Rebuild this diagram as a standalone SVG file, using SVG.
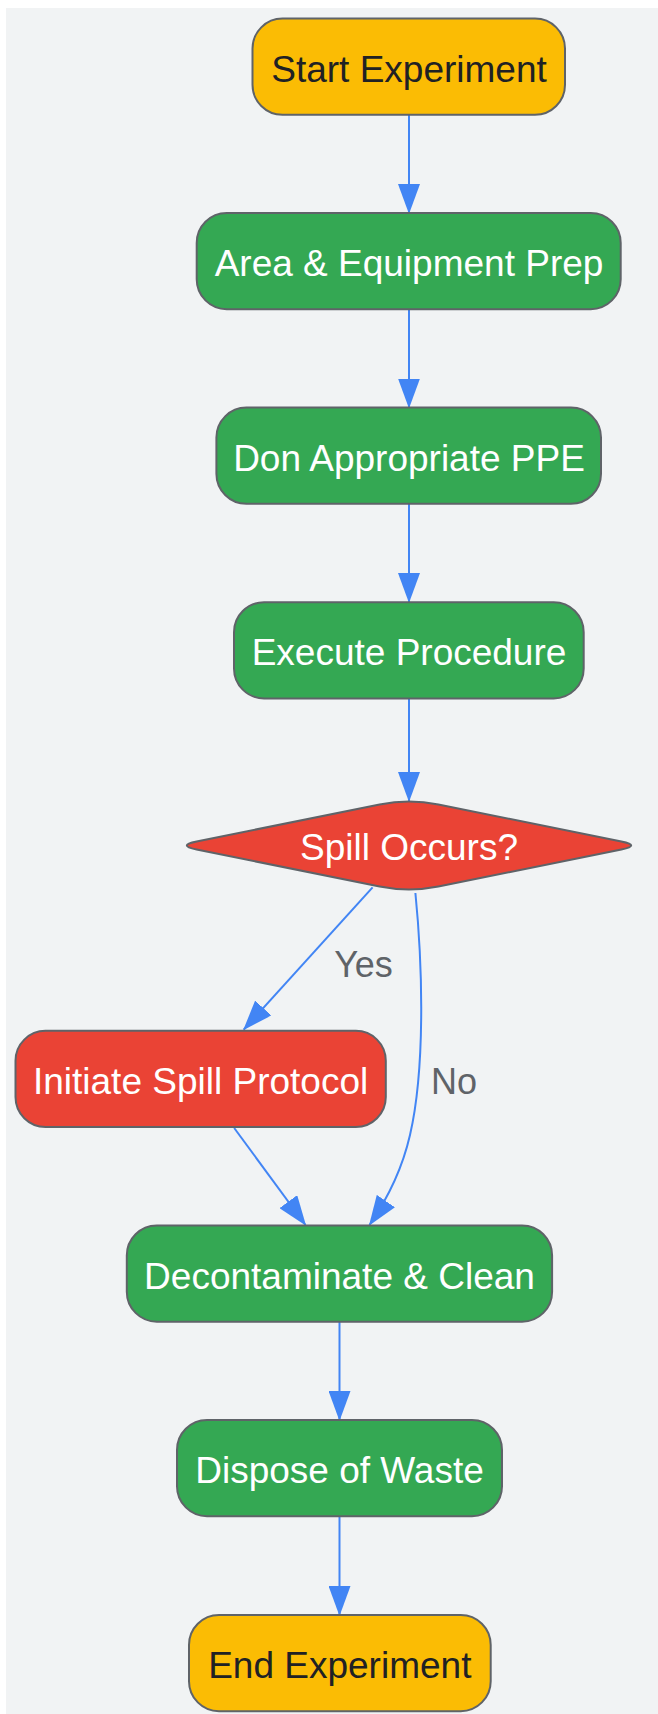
<svg xmlns="http://www.w3.org/2000/svg" width="658" height="1714" viewBox="0 0 658 1714">
<style>
.node{stroke:#5f6368;stroke-width:2}
.green{fill:#34A853}
.red{fill:#EA4335}
.yellow{fill:#FBBC04}
.t{font-family:"Liberation Sans",Arial,sans-serif;font-size:37px;text-anchor:middle}
.w{fill:#ffffff}
.d{fill:#202124}
.edge{fill:none;stroke:#4285F4;stroke-width:2}
.lbl{font-family:"Liberation Sans",Arial,sans-serif;font-size:36px;text-anchor:middle;fill:#5f6368}
</style>
<defs>
<marker id="arr" viewBox="0 0 30 22" markerWidth="30" markerHeight="22" refX="29" refY="11" markerUnits="userSpaceOnUse" orient="auto">
<path d="M0,0 L30,11 L0,22 Z" fill="#4285F4"/>
</marker>
</defs>
<rect x="6" y="8" width="652" height="1706" fill="#f1f3f4"/>
<g id="connectors">
<path class="edge" d="M409,115 L409,213" marker-end="url(#arr)"/>
<path class="edge" d="M409,309 L409,407.5" marker-end="url(#arr)"/>
<path class="edge" d="M409,504 L409,602" marker-end="url(#arr)"/>
<path class="edge" d="M409,698.5 L409,801" marker-end="url(#arr)"/>
<path class="edge" d="M372.6,887.3 L243.8,1029.5" marker-end="url(#arr)"/>
<path class="edge" d="M415.4,893 C423,970 425,1070 410,1135 C402,1170 388,1198 369.5,1225" marker-end="url(#arr)"/>
<path class="edge" d="M234.2,1128 L305.5,1225" marker-end="url(#arr)"/>
<path class="edge" d="M339.5,1322 L339.5,1420" marker-end="url(#arr)"/>
<path class="edge" d="M339.5,1516.5 L339.5,1615" marker-end="url(#arr)"/>
<text class="lbl" x="363.5" y="977">Yes</text>
<text class="lbl" x="454" y="1094">No</text>
</g>
<g id="start">
<rect class="node yellow" x="252.5" y="18.6" width="312.5" height="96.2" rx="30"/>
<text class="t d" x="409" y="81.7">Start Experiment</text>
</g>
<g id="prep">
<rect class="node green" x="196.7" y="213" width="424" height="96.2" rx="30"/>
<text class="t w" x="409" y="276">Area &amp; Equipment Prep</text>
</g>
<g id="ppe">
<rect class="node green" x="216.4" y="407.6" width="384.6" height="96.2" rx="30"/>
<text class="t w" x="409" y="470.7">Don Appropriate PPE</text>
</g>
<g id="execute">
<rect class="node green" x="234" y="602.2" width="349.7" height="96.2" rx="30"/>
<text class="t w" x="409" y="665.3">Execute Procedure</text>
</g>
<g id="spill">
<path class="node red" d="M196.6,841.5 L379.6,804.5 Q409,798.6 438.4,804.5 L621.4,841.5 Q641,845.5 621.4,849.5 L438.4,886.5 Q409,892.4 379.6,886.5 L196.6,849.5 Q177,845.5 196.6,841.5 Z"/>
<text class="t w" x="409" y="860">Spill Occurs?</text>
</g>
<g id="protocol">
<rect class="node red" x="15.5" y="1030.8" width="370.3" height="96.2" rx="30"/>
<text class="t w" x="200.6" y="1094">Initiate Spill Protocol</text>
</g>
<g id="decon">
<rect class="node green" x="126.8" y="1225.5" width="425.3" height="96.2" rx="30"/>
<text class="t w" x="339.5" y="1288.6">Decontaminate &amp; Clean</text>
</g>
<g id="dispose">
<rect class="node green" x="177" y="1420" width="325" height="96.2" rx="30"/>
<text class="t w" x="339.5" y="1483.1">Dispose of Waste</text>
</g>
<g id="end">
<rect class="node yellow" x="189" y="1615" width="301.7" height="96.2" rx="30"/>
<text class="t d" x="339.8" y="1678.1">End Experiment</text>
</g>
</svg>
